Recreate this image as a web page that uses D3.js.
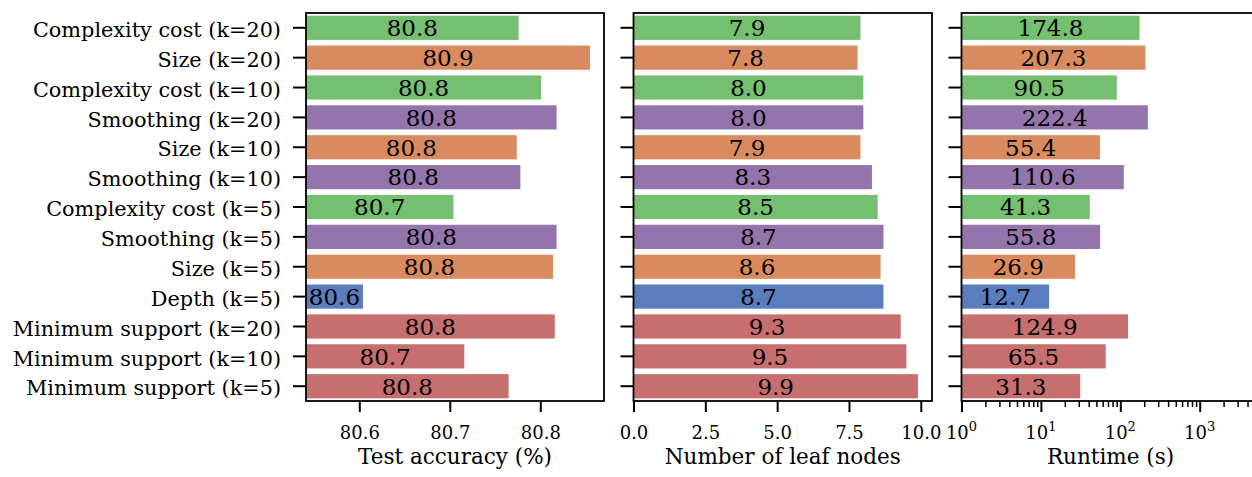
<!DOCTYPE html>
<html>
<head>
<meta charset="utf-8">
<script src="https://cdn.jsdelivr.net/npm/d3@7"></script>
<style>
  body { margin: 0; background: #fff; }
  svg { display: block; font-family: "DejaVu Serif", serif; }
</style>
</head>
<body>
<svg id="chart"></svg>
<script>
const WIDTH = 1252;
const HEIGHT = 477;

// rows, top to bottom
const methods = [
  "Complexity cost (k=20)",
  "Size (k=20)",
  "Complexity cost (k=10)",
  "Smoothing (k=20)",
  "Size (k=10)",
  "Smoothing (k=10)",
  "Complexity cost (k=5)",
  "Smoothing (k=5)",
  "Size (k=5)",
  "Depth (k=5)",
  "Minimum support (k=20)",
  "Minimum support (k=10)",
  "Minimum support (k=5)",
];
const family = [
  "Complexity cost", "Size", "Complexity cost", "Smoothing", "Size", "Smoothing",
  "Complexity cost", "Smoothing", "Size", "Depth",
  "Minimum support", "Minimum support", "Minimum support",
];
const accuracy = [80.776, 80.855, 80.801, 80.818, 80.774, 80.778, 80.704, 80.818, 80.814, 80.604, 80.816, 80.716, 80.765];
const leaves = [7.9, 7.8, 8.0, 8.0, 7.9, 8.3, 8.5, 8.7, 8.6, 8.7, 9.3, 9.5, 9.9];
const runtime = [174.8, 207.3, 90.5, 222.4, 55.4, 110.6, 41.3, 55.8, 26.9, 12.7, 124.9, 65.5, 31.3];

const families = ["Complexity cost", "Size", "Smoothing", "Depth", "Minimum support"];
const familyColors = ["#75bf71", "#d98b5f", "#9475ab", "#597dbf", "#c76e6e"];

const accTicks = [80.6, 80.7, 80.8];
const leafTicks = [0, 2.5, 5, 7.5, 10];
const runTicks = [1, 10, 100, 1000];

const FONT = '"DejaVu Serif", serif';
const TOP = 13;
const BOTTOM = 401;

const color = d3.scaleOrdinal().domain(families).range(familyColors);

const svg = d3.select("#chart").attr("width", WIDTH).attr("height", HEIGHT);

const yScale = d3
  .scaleBand()
  .domain(methods)
  .range([TOP, BOTTOM])
  .paddingInner(0.19)
  .paddingOuter(0.09);

const panels = [
  {
    values: accuracy,
    scale: d3.scaleLinear().domain([80.5411, 80.8704]).range([306, 604]),
    ticks: accTicks,
    fmt: d3.format(".1f"),
    title: "Test accuracy (%)",
    showLabels: true,
  },
  {
    values: leaves,
    scale: d3.scaleLinear().domain([0, 10.39]).range([633.5, 932]),
    ticks: leafTicks,
    fmt: d3.format(".1f"),
    title: "Number of leaf nodes",
    showLabels: false,
  },
  {
    values: runtime,
    scale: d3.scaleLog().domain([1, Math.pow(10, 3.753)]).range([961.5, 1259.5]),
    ticks: runTicks,
    log: true,
    title: "Runtime (s)",
    showLabels: false,
  },
];

const drawPanel = (p, i) => {
  const x = p.scale;
  const [x0, x1] = x.range();
  const g = svg.append("g").attr("class", "panel-" + i);

  // bars
  g.selectAll("rect.bar")
    .data(p.values)
    .enter()
    .append("rect")
    .attr("class", "bar")
    .attr("x", x0)
    .attr("y", (d, j) => yScale(methods[j]))
    .attr("width", (d) => Math.max(0, x(d) - x0))
    .attr("height", yScale.bandwidth())
    .attr("fill", (d, j) => color(family[j]));

  // value labels, centered on the visible bar
  g.selectAll("text.val")
    .data(p.values)
    .enter()
    .append("text")
    .attr("class", "val")
    .attr("x", (d) => (x0 + x(d)) / 2)
    .attr("y", (d, j) => yScale(methods[j]) + yScale.bandwidth() / 2 + 8.3)
    .attr("text-anchor", "middle")
    .attr("font-size", 23)
    .attr("fill", "#000")
    .text((d) => d3.format(".1f")(d));

  // x axis
  const xAxis = d3.axisBottom(x).tickValues(p.ticks).tickSize(11).tickPadding(14);
  if (p.log) {
    xAxis.tickFormat("");
  } else {
    xAxis.tickFormat(p.fmt);
  }
  const gx = g
    .append("g")
    .attr("transform", "translate(0," + BOTTOM + ")")
    .call(xAxis)
    .attr("font-family", FONT);
  gx.select(".domain").remove();
  gx.selectAll(".tick line").attr("stroke", "#000").attr("stroke-width", 2);
  gx.selectAll(".tick text").attr("font-size", 18).attr("fill", "#000");

  if (p.log) {
    // minor ticks
    const minor = [];
    for (let e = 0; e < 4; e++) {
      for (let m = 2; m <= 9; m++) {
        const v = m * Math.pow(10, e);
        if (v < x.domain()[1]) minor.push(v);
      }
    }
    const minorAxis = d3.axisBottom(x).tickValues(minor).tickSize(6).tickFormat("");
    const gm = g.append("g").attr("transform", "translate(0," + BOTTOM + ")").call(minorAxis);
    gm.select(".domain").remove();
    gm.selectAll(".tick line").attr("stroke", "#000").attr("stroke-width", 1.5);

    // 10^n labels
    const lab = g
      .selectAll("text.logtick")
      .data(p.ticks)
      .enter()
      .append("text")
      .attr("class", "logtick")
      .attr("x", (d) => x(d))
      .attr("y", 439)
      .attr("text-anchor", "middle")
      .attr("font-size", 18);
    lab.append("tspan").text("10");
    lab
      .append("tspan")
      .attr("font-size", 13)
      .attr("dy", -8)
      .text((d) => Math.round(Math.log10(d)));
  }

  // y axis
  const yAxis = d3.axisLeft(yScale).tickSize(13).tickPadding(12);
  if (!p.showLabels) yAxis.tickFormat("");
  const gy = g
    .append("g")
    .attr("transform", "translate(" + x0 + ",0)")
    .call(yAxis)
    .attr("font-family", FONT);
  gy.select(".domain").remove();
  gy.selectAll(".tick line").attr("stroke", "#000").attr("stroke-width", 2);
  gy.selectAll(".tick text").attr("font-size", 20.8).attr("fill", "#000").attr("dy", "0.44em");

  // frame
  g.append("rect")
    .attr("x", x0)
    .attr("y", TOP)
    .attr("width", x1 - x0)
    .attr("height", BOTTOM - TOP)
    .attr("fill", "none")
    .attr("stroke", "#000")
    .attr("stroke-width", 1.8);

  // axis title
  g.append("text")
    .attr("x", (x0 + x1) / 2)
    .attr("y", 464)
    .attr("text-anchor", "middle")
    .attr("font-size", 21.5)
    .attr("fill", "#000")
    .text(p.title);
};

panels.forEach(drawPanel);
</script>
</body>
</html>
